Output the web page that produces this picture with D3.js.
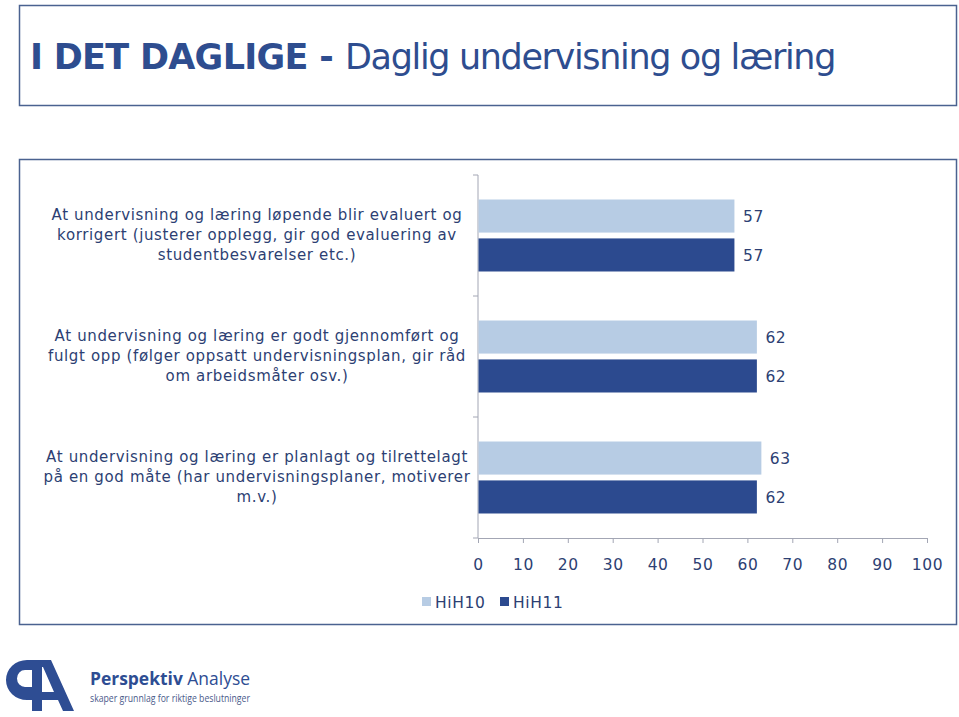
<!doctype html>
<html>
  <head>
    <meta charset="utf-8">
    <title>I DET DAGLIGE</title>
    <style>
      * { margin: 0; padding: 0; }
      body { background: #fff; width: 959px; height: 717px; overflow: hidden; }
      svg text { font-family: Verdana, "DejaVu Sans", sans-serif; }
    </style>
  </head>
  <body>
    <div id="main"></div>
  </body>
  <script src="https://d3js.org/d3.v7.min.js"></script>
<script>
    var categories = [
      ['At undervisning og læring løpende blir evaluert og', 'korrigert (justerer opplegg, gir god evaluering av', 'studentbesvarelser etc.)'],
      ['At undervisning og læring er godt gjennomført og', 'fulgt opp (følger oppsatt undervisningsplan, gir råd', 'om arbeidsmåter osv.)'],
      ['At undervisning og læring er planlagt og tilrettelagt', 'på en god måte (har undervisningsplaner, motiverer', 'm.v.)']
    ]
    var seriesNames = ['HiH10', 'HiH11']
    var hih10 = [57, 62, 63]
    var hih11 = [57, 62, 62]
    var ticks = [0, 10, 20, 30, 40, 50, 60, 70, 80, 90, 100]

    var colors = ['#b7cce4', '#2c4a8f']
    var textColor = '#2d3f73'
    var width = 959, height = 717

    var svg = d3.select('#main').append('svg').attr('width', width).attr('height', height)

    // stretch a text's letter spacing so it ends up about w pixels wide
    function spreadTo(sel, w){
      var node = sel.node()
      var cur = node.getComputedTextLength()
      var n = node.textContent.length
      return (w - cur) / n
    }

    // title box
    svg.append('rect').attr('x', 19.5).attr('y', 5.5).attr('width', 937).attr('height', 100)
      .attr('fill', '#fff').attr('stroke', '#4a6290').attr('stroke-width', 1.5)
    var t1 = svg.append('text').attr('x', 30).attr('y', 69)
      .style('font-size', '35px').style('font-weight', 'bold').attr('fill', '#2e4d8f')
      .text('I DET DAGLIGE -')
    t1.style('letter-spacing', spreadTo(t1, 303) + 'px')
    var t2 = svg.append('text').attr('x', 345).attr('y', 69)
      .style('font-size', '35px').attr('fill', '#2e4d8f')
      .text('Daglig undervisning og læring')
    t2.style('letter-spacing', spreadTo(t2, 490) + 'px')

    // chart box
    svg.append('rect').attr('x', 19.5).attr('y', 159.5).attr('width', 937).attr('height', 465)
      .attr('fill', '#fff').attr('stroke', '#4a6290').attr('stroke-width', 1.5)

    var x = d3.scaleLinear().domain([0, 100]).range([478, 927])
    var y0 = d3.scaleBand().domain(d3.range(categories.length)).range([175, 538])
      .paddingInner(0.405).paddingOuter(0.2025)
    var y1 = d3.scaleBand().domain(seriesNames).range([0, y0.bandwidth()]).paddingInner(0.15)

    var data = categories.map(function(c, i){ return {i: i, label: c, values: [hih10[i], hih11[i]]} })

    // x axis
    var xAxis = svg.append('g').attr('transform', 'translate(0,538)')
      .call(d3.axisBottom(x).tickValues(ticks).tickSize(5).tickPadding(16))
    xAxis.select('.domain').attr('stroke', '#a3a6b4')
    xAxis.selectAll('.tick line').attr('stroke', '#a3a6b4')
    xAxis.selectAll('.tick text').attr('fill', textColor).style('font-size', '15.5px')
      .style('font-family', 'Verdana, "DejaVu Sans", sans-serif').style('letter-spacing', '0.6px')

    // y axis with ticks at category boundaries
    var step = y0.step()
    var bounds = d3.range(categories.length + 1).map(function(k){ return 175 + k * step })
    svg.append('line').attr('x1', 478).attr('x2', 478).attr('y1', 175).attr('y2', 538)
      .attr('stroke', '#a3a6b4')
    svg.selectAll('.ytick').data(bounds).enter().append('line').attr('class', 'ytick')
      .attr('x1', 473).attr('x2', 478).attr('y1', function(d){ return d }).attr('y2', function(d){ return d })
      .attr('stroke', '#a3a6b4')

    var groups = svg.selectAll('.cat').data(data).enter().append('g').attr('class', 'cat')
      .attr('transform', function(d){ return 'translate(0,' + y0(d.i) + ')' })

    groups.selectAll('rect').data(function(d){ return d.values.map(function(v, k){ return {k: k, v: v} }) })
      .enter().append('rect')
      .attr('x', x(0) + 0.5)
      .attr('y', function(d){ return y1(seriesNames[d.k]) })
      .attr('width', function(d){ return x(d.v) - x(0) })
      .attr('height', y1.bandwidth())
      .attr('fill', function(d){ return colors[d.k] })

    groups.selectAll('.val').data(function(d){ return d.values.map(function(v, k){ return {k: k, v: v} }) })
      .enter().append('text').attr('class', 'val')
      .attr('x', function(d){ return x(d.v) + 9 })
      .attr('y', function(d){ return y1(seriesNames[d.k]) + y1.bandwidth() / 2 + 6 })
      .attr('fill', textColor).style('font-size', '15.5px').style('letter-spacing', '0.6px')
      .text(function(d){ return d.v })

    // category labels, letter spacing taken from the first line (411px wide in the original)
    var labelSize = '15px'
    var probe = svg.append('text').style('font-size', labelSize).text(categories[0][0])
    var ls = spreadTo(probe, 411)
    probe.remove()
    groups.append('text').attr('text-anchor', 'middle').attr('fill', textColor)
      .style('font-size', labelSize).style('letter-spacing', ls + 'px')
      .selectAll('tspan').data(function(d){ return d.label }).enter().append('tspan')
      .attr('x', 257).attr('y', function(d, k){ return y0.bandwidth() / 2 + 5 + (k - 1) * 20 })
      .text(function(d){ return d })

    // legend
    var legend = svg.append('g').attr('transform', 'translate(422,602)')
    var lx = [0, 78]
    seriesNames.forEach(function(s, k){
      legend.append('rect').attr('x', lx[k]).attr('y', -5).attr('width', 9).attr('height', 9).attr('fill', colors[k])
      legend.append('text').attr('x', lx[k] + 13).attr('y', 6).attr('fill', textColor)
        .style('font-size', '15.5px').style('letter-spacing', '0.6px').text(s)
    })

    // logo
    var logo = svg.append('g').attr('transform', 'translate(0,640)').attr('fill', '#2e4d93')
    logo.append('path').attr('fill-rule', 'evenodd')
      .attr('d', 'M34,20 L27,20 A21,20 0 0 0 27,60 L34,60 Z M34,30 L25,30 A8,8.5 0 0 0 25,47 L34,47 Z')
    logo.append('rect').attr('x', 32).attr('y', 20).attr('width', 10).attr('height', 51)
    logo.append('path')
      .attr('d', 'M41,20 L51,20 L74,71 L63,71 L58,60 L41,60 L41,52 L54,52 L43,27 L41,27 Z')
    svg.append('text').attr('x', 90).attr('y', 685).attr('fill', '#2e4d93')
      .style('font-family', '"Open Sans", sans-serif').style('font-size', '18px')
      .attr('textLength', 160).attr('lengthAdjust', 'spacingAndGlyphs')
      .html('<tspan font-weight="bold">Perspektiv</tspan> Analyse')
    svg.append('text').attr('x', 90).attr('y', 702).attr('fill', '#4a5a8a')
      .style('font-family', '"Open Sans", sans-serif').style('font-size', '10px')
      .attr('textLength', 160).attr('lengthAdjust', 'spacingAndGlyphs')
      .text('skaper grunnlag for riktige beslutninger')
</script>
</html>
